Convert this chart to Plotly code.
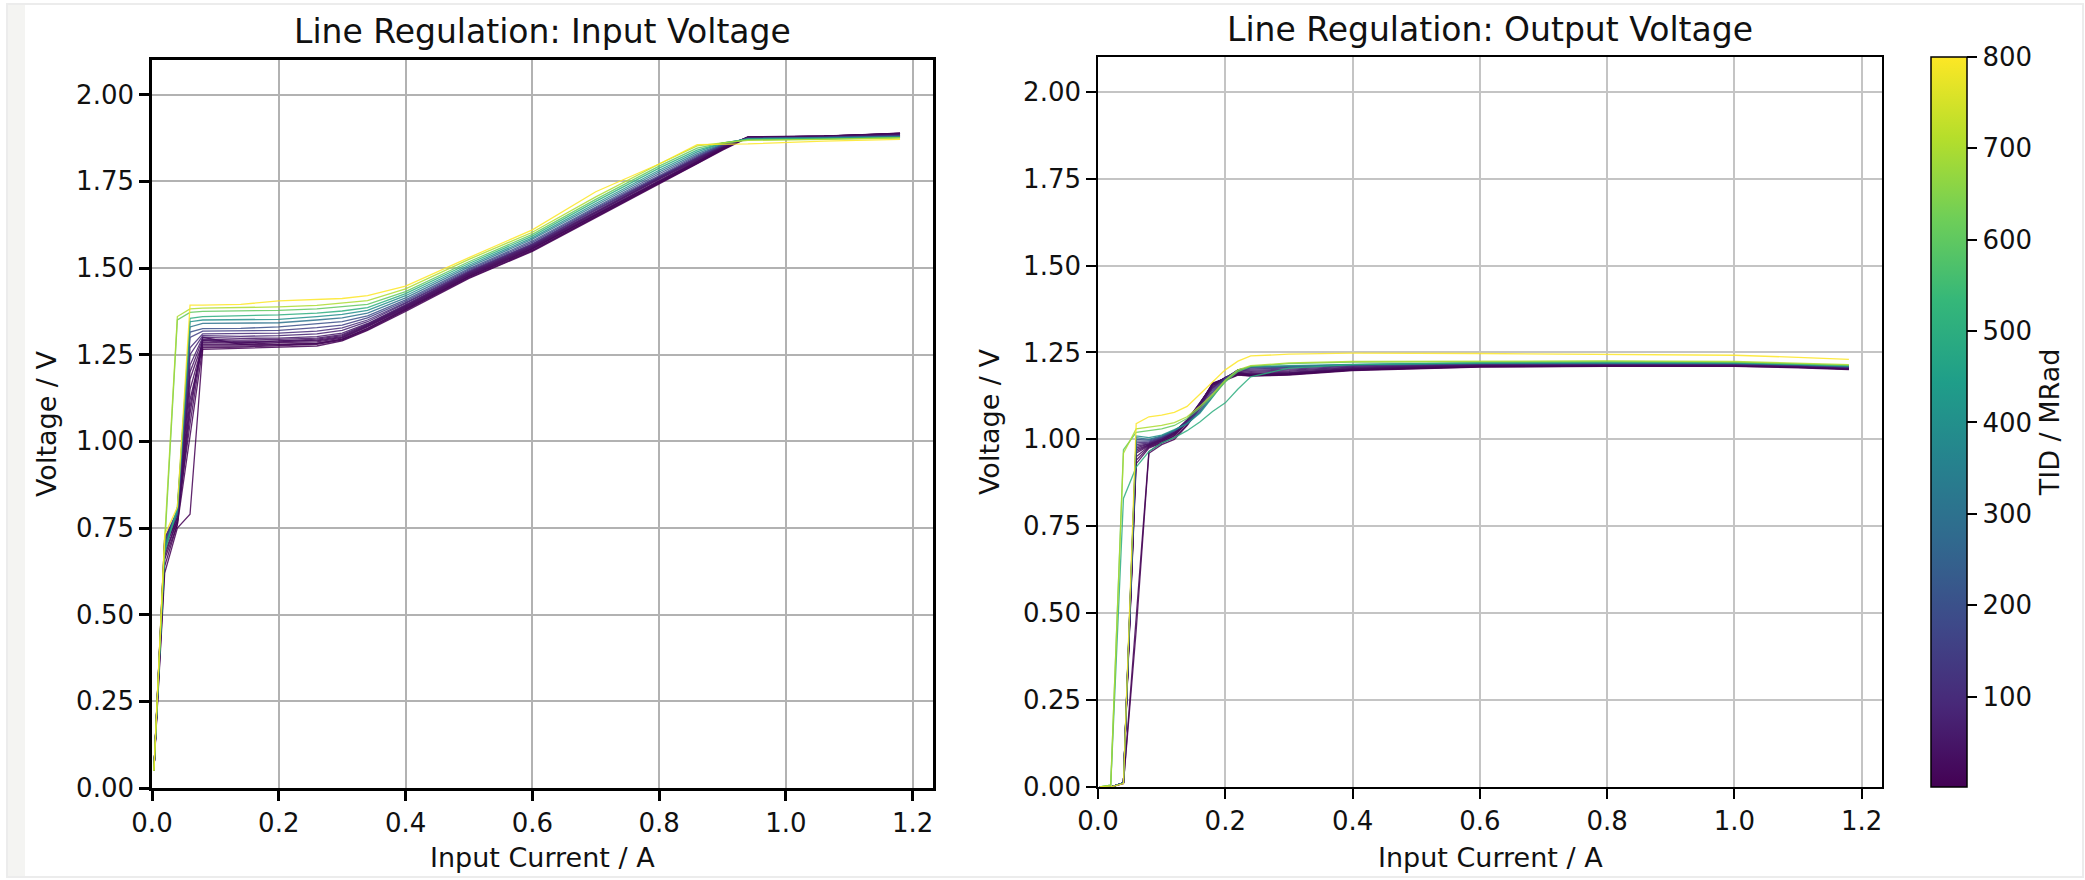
import plotly.graph_objects as go
from plotly.colors import sample_colorscale

# Total ionising dose of each measurement run (MRad)
DOSES = [1, 4, 8, 12, 16, 20, 25, 30, 40, 50, 75, 100, 150, 200, 300, 400, 500, 600, 700, 800]

# Input current sweep points (A)
X_IN = [0.003, 0.02, 0.04, 0.06, 0.08, 0.14, 0.20, 0.26, 0.30, 0.34,
        0.40, 0.50, 0.60, 0.70, 0.80, 0.86, 0.90, 0.94, 1.06, 1.18]
X_OUT = [0.003, 0.02, 0.04, 0.06, 0.08, 0.10, 0.12, 0.14, 0.16, 0.18,
         0.20, 0.22, 0.24, 0.30, 0.40, 0.60, 0.80, 1.00, 1.10, 1.18]

# Input voltage (V) per dose, on X_IN
VIN_1 = [0.05, 0.62, 0.75, 0.79, 1.265, 1.268, 1.27, 1.275, 1.29, 1.32, 1.375, 1.47, 1.548, 1.645, 1.742, 1.80, 1.84, 1.876, 1.879, 1.889]
VIN_4 = [0.05, 0.64, 0.76, 1.02, 1.27, 1.272, 1.275, 1.28, 1.292, 1.322, 1.378, 1.472, 1.55, 1.648, 1.745, 1.802, 1.842, 1.877, 1.88, 1.888]
VIN_8 = [0.05, 0.66, 0.76, 1.08, 1.30, 1.28, 1.28, 1.283, 1.295, 1.325, 1.38, 1.475, 1.552, 1.65, 1.746, 1.804, 1.843, 1.877, 1.88, 1.889]
VIN_12 = [0.05, 0.67, 0.77, 1.12, 1.275, 1.275, 1.278, 1.282, 1.294, 1.326, 1.382, 1.476, 1.555, 1.652, 1.748, 1.805, 1.845, 1.878, 1.881, 1.887]
VIN_16 = [0.05, 0.68, 0.77, 1.15, 1.28, 1.279, 1.285, 1.287, 1.298, 1.33, 1.384, 1.478, 1.556, 1.654, 1.75, 1.806, 1.846, 1.878, 1.88, 1.888]
VIN_20 = [0.05, 0.69, 0.78, 1.18, 1.285, 1.283, 1.29, 1.29, 1.30, 1.332, 1.386, 1.48, 1.558, 1.655, 1.752, 1.808, 1.846, 1.877, 1.879, 1.886]
VIN_25 = [0.05, 0.70, 0.78, 1.05, 1.29, 1.285, 1.287, 1.292, 1.302, 1.334, 1.388, 1.482, 1.56, 1.657, 1.754, 1.81, 1.848, 1.877, 1.88, 1.887]
VIN_30 = [0.05, 0.70, 0.77, 1.10, 1.292, 1.288, 1.29, 1.295, 1.305, 1.336, 1.39, 1.484, 1.562, 1.66, 1.756, 1.812, 1.849, 1.876, 1.879, 1.886]
VIN_40 = [0.05, 0.71, 0.78, 1.20, 1.295, 1.292, 1.294, 1.298, 1.308, 1.338, 1.392, 1.486, 1.564, 1.662, 1.758, 1.814, 1.85, 1.876, 1.879, 1.885]
VIN_50 = [0.05, 0.71, 0.79, 1.22, 1.30, 1.297, 1.298, 1.302, 1.312, 1.34, 1.394, 1.488, 1.566, 1.664, 1.76, 1.816, 1.851, 1.875, 1.878, 1.884]
VIN_75 = [0.05, 0.72, 0.79, 1.25, 1.305, 1.303, 1.305, 1.31, 1.32, 1.345, 1.398, 1.49, 1.568, 1.667, 1.762, 1.818, 1.852, 1.875, 1.877, 1.883]
VIN_100 = [0.05, 0.72, 0.80, 1.27, 1.31, 1.31, 1.312, 1.318, 1.327, 1.35, 1.40, 1.492, 1.57, 1.67, 1.765, 1.82, 1.853, 1.874, 1.877, 1.882]
VIN_150 = [0.05, 0.71, 0.80, 1.30, 1.318, 1.318, 1.32, 1.328, 1.335, 1.356, 1.404, 1.495, 1.574, 1.673, 1.768, 1.823, 1.855, 1.874, 1.876, 1.881]
VIN_200 = [0.05, 0.70, 0.79, 1.315, 1.325, 1.326, 1.33, 1.338, 1.345, 1.362, 1.408, 1.498, 1.578, 1.676, 1.772, 1.826, 1.856, 1.873, 1.876, 1.880]
VIN_300 = [0.05, 0.70, 0.80, 1.33, 1.34, 1.34, 1.342, 1.35, 1.356, 1.37, 1.414, 1.503, 1.583, 1.681, 1.777, 1.83, 1.858, 1.873, 1.875, 1.879]
VIN_400 = [0.05, 0.69, 0.80, 1.345, 1.35, 1.35, 1.352, 1.36, 1.366, 1.378, 1.42, 1.508, 1.587, 1.686, 1.782, 1.835, 1.86, 1.872, 1.874, 1.878]
VIN_500 = [0.05, 0.68, 0.81, 1.355, 1.36, 1.362, 1.365, 1.37, 1.376, 1.386, 1.426, 1.513, 1.592, 1.692, 1.788, 1.84, 1.86, 1.872, 1.873, 1.877]
VIN_600 = [0.05, 0.70, 1.35, 1.372, 1.375, 1.376, 1.378, 1.382, 1.388, 1.395, 1.432, 1.518, 1.597, 1.698, 1.794, 1.846, 1.861, 1.87, 1.872, 1.876]
VIN_700 = [0.05, 0.72, 1.36, 1.382, 1.384, 1.385, 1.388, 1.392, 1.398, 1.406, 1.44, 1.525, 1.603, 1.705, 1.80, 1.852, 1.861, 1.868, 1.871, 1.875]
VIN_800 = [0.05, 0.73, 0.81, 1.393, 1.393, 1.395, 1.405, 1.41, 1.412, 1.42, 1.448, 1.53, 1.61, 1.72, 1.80, 1.856, 1.857, 1.858, 1.866, 1.871]

# Output voltage (V) per dose, on X_OUT
VOUT_1 = [0.0, 0.0, 0.01, 0.45, 0.96, 0.985, 1.0, 1.04, 1.09, 1.155, 1.17, 1.185, 1.182, 1.185, 1.198, 1.208, 1.21, 1.21, 1.206, 1.201]
VOUT_4 = [0.0, 0.0, 0.01, 0.50, 0.965, 0.99, 1.005, 1.042, 1.095, 1.158, 1.172, 1.186, 1.183, 1.186, 1.199, 1.209, 1.211, 1.211, 1.207, 1.202]
VOUT_8 = [0.0, 0.0, 0.012, 0.93, 0.975, 0.99, 1.01, 1.048, 1.10, 1.16, 1.174, 1.188, 1.184, 1.187, 1.20, 1.21, 1.212, 1.212, 1.208, 1.203]
VOUT_12 = [0.0, 0.0, 0.012, 0.94, 0.978, 0.992, 1.012, 1.05, 1.10, 1.162, 1.175, 1.19, 1.185, 1.188, 1.20, 1.21, 1.212, 1.212, 1.208, 1.203]
VOUT_16 = [0.0, 0.0, 0.012, 0.95, 0.98, 0.995, 1.015, 1.052, 1.102, 1.16, 1.176, 1.19, 1.186, 1.189, 1.201, 1.211, 1.213, 1.212, 1.209, 1.204]
VOUT_20 = [0.0, 0.0, 0.012, 0.96, 0.982, 0.996, 1.016, 1.054, 1.104, 1.158, 1.177, 1.191, 1.187, 1.19, 1.202, 1.212, 1.213, 1.213, 1.209, 1.204]
VOUT_25 = [0.0, 0.0, 0.012, 0.965, 0.984, 0.998, 1.018, 1.055, 1.105, 1.156, 1.178, 1.192, 1.188, 1.191, 1.203, 1.212, 1.214, 1.213, 1.21, 1.205]
VOUT_30 = [0.0, 0.0, 0.012, 0.97, 0.985, 1.0, 1.02, 1.056, 1.104, 1.155, 1.178, 1.193, 1.19, 1.193, 1.204, 1.213, 1.214, 1.214, 1.21, 1.205]
VOUT_40 = [0.0, 0.0, 0.012, 0.975, 0.987, 1.0, 1.02, 1.055, 1.10, 1.15, 1.178, 1.195, 1.193, 1.196, 1.206, 1.214, 1.215, 1.214, 1.211, 1.206]
VOUT_50 = [0.0, 0.0, 0.012, 0.98, 0.988, 1.002, 1.022, 1.054, 1.098, 1.148, 1.178, 1.197, 1.196, 1.199, 1.208, 1.215, 1.216, 1.215, 1.212, 1.207]
VOUT_75 = [0.0, 0.0, 0.012, 0.985, 0.99, 1.004, 1.024, 1.052, 1.095, 1.145, 1.177, 1.198, 1.199, 1.202, 1.21, 1.216, 1.217, 1.216, 1.212, 1.207]
VOUT_100 = [0.0, 0.0, 0.012, 0.99, 0.992, 1.005, 1.025, 1.05, 1.09, 1.14, 1.176, 1.20, 1.202, 1.205, 1.212, 1.217, 1.218, 1.217, 1.213, 1.208]
VOUT_150 = [0.0, 0.0, 0.012, 0.995, 0.995, 1.006, 1.024, 1.048, 1.085, 1.135, 1.175, 1.20, 1.205, 1.207, 1.213, 1.218, 1.219, 1.218, 1.214, 1.209]
VOUT_200 = [0.0, 0.0, 0.012, 1.0, 0.998, 1.008, 1.025, 1.046, 1.08, 1.13, 1.172, 1.20, 1.207, 1.209, 1.214, 1.218, 1.219, 1.218, 1.214, 1.209]
VOUT_300 = [0.0, 0.0, 0.012, 1.005, 1.0, 1.01, 1.026, 1.045, 1.078, 1.125, 1.17, 1.20, 1.208, 1.21, 1.215, 1.219, 1.22, 1.219, 1.215, 1.21]
VOUT_400 = [0.0, 0.0, 0.012, 1.01, 1.005, 1.012, 1.028, 1.045, 1.075, 1.12, 1.168, 1.198, 1.21, 1.212, 1.216, 1.22, 1.221, 1.22, 1.216, 1.211]
VOUT_500 = [0.0, 0.005, 0.83, 0.92, 0.965, 0.99, 1.005, 1.025, 1.05, 1.08, 1.105, 1.145, 1.18, 1.205, 1.215, 1.22, 1.222, 1.22, 1.216, 1.212]
VOUT_600 = [0.0, 0.005, 0.97, 1.02, 1.025, 1.03, 1.04, 1.06, 1.09, 1.125, 1.165, 1.195, 1.21, 1.218, 1.222, 1.224, 1.224, 1.222, 1.218, 1.213]
VOUT_700 = [0.0, 0.005, 0.96, 1.03, 1.035, 1.04, 1.048, 1.065, 1.095, 1.13, 1.17, 1.20, 1.212, 1.22, 1.224, 1.226, 1.226, 1.224, 1.22, 1.215]
VOUT_800 = [0.0, 0.0, 0.01, 1.045, 1.065, 1.07, 1.078, 1.095, 1.13, 1.165, 1.20, 1.225, 1.24, 1.245, 1.248, 1.247, 1.245, 1.242, 1.236, 1.23]

VIN = [VIN_1, VIN_4, VIN_8, VIN_12, VIN_16, VIN_20, VIN_25, VIN_30, VIN_40, VIN_50,
       VIN_75, VIN_100, VIN_150, VIN_200, VIN_300, VIN_400, VIN_500, VIN_600, VIN_700, VIN_800]
VOUT = [VOUT_1, VOUT_4, VOUT_8, VOUT_12, VOUT_16, VOUT_20, VOUT_25, VOUT_30, VOUT_40, VOUT_50,
        VOUT_75, VOUT_100, VOUT_150, VOUT_200, VOUT_300, VOUT_400, VOUT_500, VOUT_600, VOUT_700, VOUT_800]

X_TICKS = [0.0, 0.2, 0.4, 0.6, 0.8, 1.0, 1.2]
Y_TICKS = [0.0, 0.25, 0.5, 0.75, 1.0, 1.25, 1.5, 1.75, 2.0]
CBAR_TICKS = [100, 200, 300, 400, 500, 600, 700, 800]
DOSE_MIN, DOSE_MAX = 1, 800

W, H = 2085, 880
FONT = "DejaVu Sans"
TXT = "#111111"
TICK_SIZE = 26
LABEL_SIZE = 27
TITLE_SIZE = 33


def px_x(p):
    return p / W


def px_y(p):
    return 1 - p / H


def dose_color(d):
    t = (d - DOSE_MIN) / (DOSE_MAX - DOSE_MIN)
    return sample_colorscale("Viridis", [t])[0]


fig = go.Figure()

for d, vin, vout in zip(DOSES, VIN, VOUT):
    c = dose_color(d)
    fig.add_trace(go.Scatter(x=X_IN, y=vin, mode="lines", line=dict(color=c, width=1.3),
                             opacity=0.85, xaxis="x", yaxis="y", showlegend=False,
                             name=f"{d} MRad"))
    fig.add_trace(go.Scatter(x=X_OUT, y=vout, mode="lines", line=dict(color=c, width=1.3),
                             opacity=0.85, xaxis="x2", yaxis="y2", showlegend=False,
                             name=f"{d} MRad"))

# colour scale for dose
fig.add_trace(go.Scatter(
    x=[0.6], y=[1.0], mode="markers", xaxis="x2", yaxis="y2", showlegend=False,
    hoverinfo="skip",
    marker=dict(size=1, opacity=0, color=[DOSE_MIN], colorscale="Viridis",
                cmin=DOSE_MIN, cmax=DOSE_MAX, showscale=True,
                colorbar=dict(
                    x=px_x(1931), xanchor="left", y=px_y(787), yanchor="bottom",
                    len=730 / H, lenmode="fraction", thickness=36, thicknessmode="pixels",
                    xpad=0, ypad=0, outlinewidth=1.5, outlinecolor="black",
                    ticks="outside", ticklen=10, tickwidth=1.5, tickcolor="black",
                    tickvals=CBAR_TICKS, ticktext=[str(v) for v in CBAR_TICKS],
                    tickfont=dict(family=FONT, size=TICK_SIZE, color=TXT),
                    title=dict(text="TID / MRad", side="right",
                               font=dict(family=FONT, size=LABEL_SIZE, color=TXT)),
                ))))


def x_axis(domain, lw, gw, gc):
    return dict(domain=domain, range=[0, 1.232], tickvals=X_TICKS, automargin=False,
                ticktext=[f"{v:.1f}" for v in X_TICKS], showgrid=True, gridcolor=gc,
                gridwidth=gw, zeroline=False, showline=True, linecolor="black",
                linewidth=lw, mirror=True, ticks="outside", ticklen=10, tickwidth=lw,
                tickcolor="black", tickfont=dict(family=FONT, size=TICK_SIZE, color=TXT))


def y_axis(domain, lw, gw, gc):
    return dict(domain=domain, range=[0, 2.1], tickvals=Y_TICKS, automargin=False,
                ticktext=[f"{v:.2f}" for v in Y_TICKS], showgrid=True, gridcolor=gc,
                gridwidth=gw, zeroline=False, showline=True, linecolor="black",
                linewidth=lw, mirror=True, ticks="outside", ticklen=10, tickwidth=lw,
                tickcolor="black", tickfont=dict(family=FONT, size=TICK_SIZE, color=TXT))


fig.update_layout(
    width=W, height=H, margin=dict(l=0, r=0, t=0, b=0, autoexpand=False),
    paper_bgcolor="white", plot_bgcolor="white",
    font=dict(family=FONT, size=LABEL_SIZE, color=TXT),
    xaxis=x_axis([px_x(152), px_x(933)], 2.6, 2.3, "#b2b2b2") | dict(anchor="y"),
    yaxis=y_axis([px_y(788), px_y(60)], 2.6, 2.3, "#b2b2b2") | dict(anchor="x"),
    xaxis2=x_axis([px_x(1098), px_x(1882)], 1.6, 1.8, "#c4c4c4") | dict(anchor="y2"),
    yaxis2=y_axis([px_y(787), px_y(57)], 1.6, 1.8, "#c4c4c4") | dict(anchor="x2"),
)

annotations = [
    dict(text="Line Regulation: Input Voltage", x=px_x(542.5), y=px_y(31), size=TITLE_SIZE),
    dict(text="Line Regulation: Output Voltage", x=px_x(1490), y=px_y(29), size=TITLE_SIZE),
    dict(text="Input Current / A", x=px_x(542.5), y=px_y(857), size=LABEL_SIZE),
    dict(text="Input Current / A", x=px_x(1490), y=px_y(857), size=LABEL_SIZE),
    dict(text="Voltage / V", x=px_x(46), y=px_y(424), size=LABEL_SIZE, angle=-90),
    dict(text="Voltage / V", x=px_x(990), y=px_y(422), size=LABEL_SIZE, angle=-90),
]
for a in annotations:
    fig.add_annotation(text=a["text"], x=a["x"], y=a["y"], xref="paper", yref="paper",
                       xanchor="center", yanchor="middle", showarrow=False,
                       textangle=a.get("angle", 0),
                       font=dict(family=FONT, size=a["size"], color=TXT))

# faint frame around the page
fig.add_shape(type="rect", xref="paper", yref="paper", x0=px_x(7), x1=px_x(25),
              y0=px_y(877), y1=px_y(4), fillcolor="#f4f4f2", line=dict(width=0), layer="below")
fig.add_shape(type="rect", xref="paper", yref="paper", x0=px_x(7), x1=px_x(2083),
              y0=px_y(877), y1=px_y(4), line=dict(color="#ececec", width=2), layer="below")

fig.write_html("out.html")
